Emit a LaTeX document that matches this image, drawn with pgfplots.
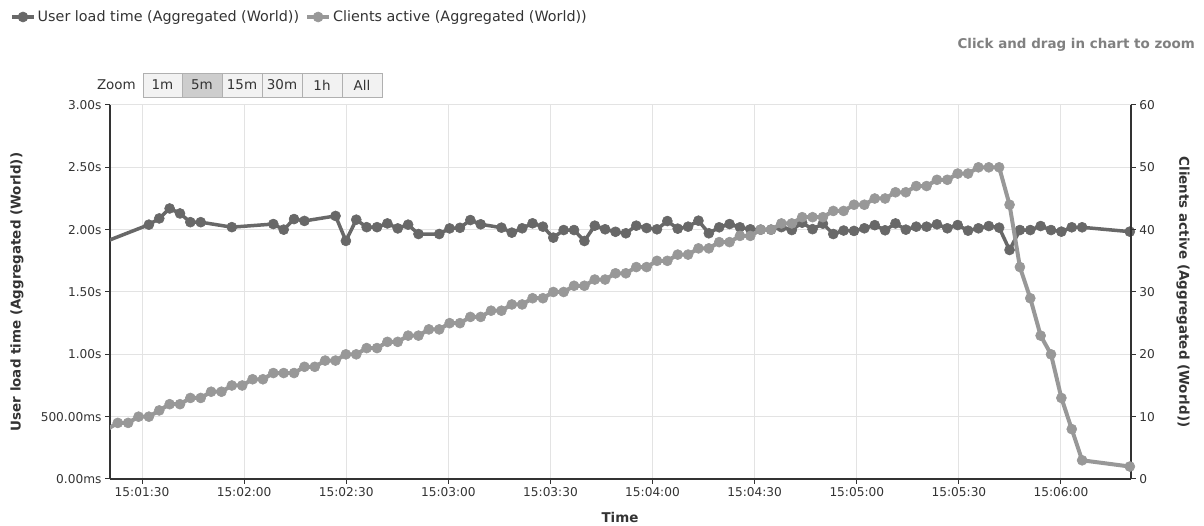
\documentclass[border=0pt]{standalone}
\usepackage{pgfplots}
\pgfplotsset{compat=1.18}
\usepackage{fontspec}
\setmainfont{DejaVu Sans}
\definecolor{loadc}{HTML}{686868}
\definecolor{clientc}{HTML}{989898}
\definecolor{gridc}{HTML}{E3E3E3}
\definecolor{axc}{HTML}{333333}
\definecolor{txt}{HTML}{333333}
\definecolor{hint}{HTML}{808080}
\definecolor{btnfill}{HTML}{F2F2F2}
\definecolor{btnsel}{HTML}{CDCDCD}
\definecolor{btnedge}{HTML}{B0B0B0}

\pgfplotsset{
  common/.style={
    at={(110bp,47bp)}, anchor=south west,
    scale only axis, width=1021bp, height=374bp,
    xmin=0.25, xmax=98.71,
    tick align=outside, major tick length=5bp,
    tick style={axc, line width=1bp},
    axis line style={axc, line width=1.3bp},
    ticklabel style={font=\fontsize{12.2}{14}\selectfont, text=txt},
    label style={font=\bfseries\fontsize{13.5}{16}\selectfont, text=txt},
    clip=true,
  },
  loadstyle/.style={loadc, line width=3.5bp, line join=round, mark=*, mark size=5bp, mark options={solid, draw=loadc, fill=loadc, line width=0.6bp}},
  clientstyle/.style={clientc, line width=4bp, line join=round, mark=*, mark size=5bp, mark options={solid, draw=clientc, fill=clientc, line width=0.6bp}},
}

\begin{document}
\begin{tikzpicture}[x=1bp,y=1bp]
\useasboundingbox (0,0) rectangle (1204,526);

\begin{axis}[common,
  ymin=0, ymax=3,
  axis y line*=left, axis x line*=bottom,
  xtick={3.34,13.18,23.03,32.88,42.73,52.57,62.42,72.27,82.12,91.96},
  xticklabels={15:01:30,15:02:00,15:02:30,15:03:00,15:03:30,15:04:00,15:04:30,15:05:00,15:05:30,15:06:00},
  ytick={0,0.5,1,1.5,2,2.5,3},
  yticklabels={0.00ms,500.00ms,1.00s,1.50s,2.00s,2.50s,3.00s},
  grid=major, major grid style={gridc, line width=1bp},
  xlabel={Time}, ylabel={User load time (Aggregated (World))},
  xlabel style={at={(axis description cs:0.4995,-0.1016)}, anchor=center},
  ylabel style={at={(axis description cs:-0.0911,0.5)}, anchor=center},
]
\addplot[loadstyle] coordinates {
(0,1.91) (4,2.04) (5,2.09) (6,2.17) (7,2.13) (8,2.06) (9,2.06) (12,2.02)
(16,2.045) (17,2.00) (18,2.085) (19,2.07) (22,2.11) (23,1.91) (24,2.08)
(25,2.02) (26,2.02) (27,2.05) (28,2.01) (29,2.04) (30,1.965) (32,1.965)
(33,2.01) (34,2.015) (35,2.077) (36,2.043) (38,2.016) (39,1.976) (40,2.011)
(41,2.051) (42,2.024) (43,1.936) (44,1.997) (45,1.997) (46,1.909) (47,2.032)
(48,2.003) (49,1.983) (50,1.971) (51,2.032) (52,2.013) (53,2.003) (54,2.069)
(55,2.008) (56,2.024) (57,2.072) (58,1.971) (59,2.019) (60,2.045) (61,2.019)
(62,2.003) (63,2.00) (64,2.00) (65,2.02) (66,1.997) (67,2.056) (68,2.004)
(69,2.048) (70,1.965) (71,1.993) (72,1.99) (73,2.011) (74,2.036) (75,1.995)
(76,2.05) (77,2.0) (78,2.024) (79,2.024) (80,2.043) (81,2.011) (82,2.037)
(83,1.992) (84,2.011) (85,2.029) (86,2.016) (87,1.837) (88,1.997) (89,1.997)
(90,2.029) (91,1.997) (92,1.984) (93,2.019) (94,2.019) (98.6,1.984)
};
\end{axis}

\begin{axis}[common,
  ymin=0, ymax=60,
  axis y line*=right, axis x line=none,
  ytick={0,10,20,30,40,50,60},
  yticklabels={0,10,20,30,40,50,60},
  ylabel={Clients active (Aggregated (World))},
  ylabel style={at={(axis description cs:1.0509,0.5)}, anchor=center, rotate=180},
  legend columns=-1,
  legend style={at={(axis description cs:-0.0979,1.2353)}, anchor=west,
    draw=none, fill=none, inner xsep=0pt, inner ysep=0pt,
    font=\fontsize{14.4}{16}\selectfont, text=txt,
    /tikz/every even column/.append style={column sep=4bp}},
  legend image code/.code={\draw[mark repeat=2,mark phase=2,#1] plot coordinates {(0bp,0bp) (11bp,0bp) (22bp,0bp)};},
]
\addlegendimage{loadstyle}
\addlegendentry{User load time (Aggregated (World))}
\addplot[clientstyle] coordinates {
(0,8) (1,9) (2,9) (3,10) (4,10) (5,11) (6,12) (7,12) (8,13) (9,13)
(10,14) (11,14) (12,15) (13,15) (14,16) (15,16) (16,17) (17,17) (18,17) (19,18)
(20,18) (21,19) (22,19) (23,20) (24,20) (25,21) (26,21) (27,22) (28,22) (29,23)
(30,23) (31,24) (32,24) (33,25) (34,25) (35,26) (36,26) (37,27) (38,27) (39,28)
(40,28) (41,29) (42,29) (43,30) (44,30) (45,31) (46,31) (47,32) (48,32) (49,33)
(50,33) (51,34) (52,34) (53,35) (54,35) (55,36) (56,36) (57,37) (58,37) (59,38)
(60,38) (61,39) (62,39) (63,40) (64,40) (65,41) (66,41) (67,42) (68,42) (69,42)
(70,43) (71,43) (72,44) (73,44) (74,45) (75,45) (76,46) (77,46) (78,47) (79,47)
(80,48) (81,48) (82,49) (83,49) (84,50) (85,50) (86,50) (87,44) (88,34) (89,29)
(90,23) (91,20) (92,13) (93,8) (94,3) (98.6,2)
};
\addlegendentry{Clients active (Aggregated (World))}
\end{axis}

% range selector buttons
\node[anchor=east, font=\fontsize{13.5}{15}\selectfont, text=txt, inner sep=0pt] at (136,441) {Zoom};
\draw[btnedge, fill=btnfill, line width=0.8bp] (143,429) rectangle (382,453);
\fill[btnsel] (182,429) rectangle (222,453);
\draw[btnedge, line width=0.8bp] (143,429) rectangle (382,453);
\foreach \xx in {182,222,262,302,342} {\draw[btnedge, line width=0.8bp] (\xx,429) -- (\xx,453);}
\foreach \cx/\lab in {162.5/1m,202/5m,242/15m,282/30m,322/1h,362/All} {
  \node[font=\fontsize{13.5}{15}\selectfont, text=txt, inner sep=0pt] at (\cx,441) {\lab};
}
\node[anchor=east, font=\bfseries\fontsize{13.5}{15}\selectfont, text=hint, inner sep=0pt] at (1195,481) {Click and drag in chart to zoom};
\end{tikzpicture}
\end{document}
